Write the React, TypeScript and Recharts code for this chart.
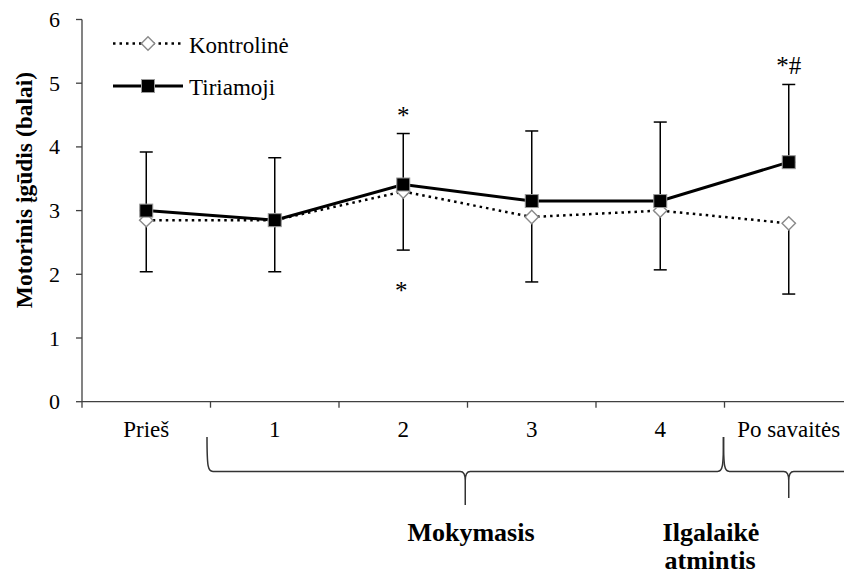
import React from "react";
import {
  LineChart,
  Line,
  XAxis,
  YAxis,
  ErrorBar,
  LabelList,
  Customized,
} from "recharts";

const FONT = "Liberation Serif";

const categories = ["Prieš", "1", "2", "3", "4", "Po savaitės"];
const kontroline = [2.85, 2.85, 3.3, 2.9, 3.0, 2.8];
const kontrolineErrLow = [0.81, 0.81, 0.92, 1.02, 0.93, 1.11];
const tiriamoji = [3.0, 2.85, 3.41, 3.15, 3.15, 3.76];
const tiriamojiErrHigh = [0.92, 0.98, 0.8, 1.1, 1.24, 1.22];
const sigTop = ["", "", "*", "", "", "*#"];
const sigBottom = ["", "", "*", "", "", ""];
const yTicks = [0, 1, 2, 3, 4, 5, 6];

const data = categories.map((c, i) => ({
  x: i + 0.5,
  name: c,
  k: kontroline[i],
  kErr: [kontrolineErrLow[i], 0],
  kLow: kontroline[i] - kontrolineErrLow[i],
  t: tiriamoji[i],
  tErr: [0, tiriamojiErrHigh[i]],
  tTop: tiriamoji[i] + tiriamojiErrHigh[i],
  sigTop: sigTop[i],
  sigBottom: sigBottom[i],
}));

const xTicks = Array.from({ length: categories.length * 2 + 1 }, (_, i) => i / 2);

// layout constants
const CHART_W = 860;
const CHART_H = 576;
const M_TOP = 19.5;
const M_RIGHT = 7;
const Y_W = 82;
const X_H = 30;
const M_BOTTOM = 144.3;
const PLOT_LEFT = Y_W;
const PLOT_RIGHT = CHART_W - M_RIGHT;
const CAT_W = (PLOT_RIGHT - PLOT_LEFT) / categories.length;
const bound = (i: number) => PLOT_LEFT + i * CAT_W;
const center = (i: number) => PLOT_LEFT + (i + 0.5) * CAT_W;

const AXIS_COLOR = "#404040";

const txt = (size: number, bold = false): React.CSSProperties => ({
  fontFamily: FONT,
  fontSize: size,
  fontWeight: bold ? "bold" : "normal",
  fill: "#000",
});

const XTick = (props: any) => {
  const { x, y, payload } = props;
  const v = payload.value;
  if (Number.isInteger(v)) {
    return <line x1={x} y1={y} x2={x} y2={y + 6} stroke={AXIS_COLOR} strokeWidth={1.3} />;
  }
  const label = categories[Math.floor(v)];
  return (
    <text x={x} y={y + 35} textAnchor="middle" style={txt(23)}>
      {label}
    </text>
  );
};

const YTick = (props: any) => {
  const { x, y, payload } = props;
  return (
    <text x={x} y={y + 7.5} textAnchor="end" style={txt(22)}>
      {payload.value}
    </text>
  );
};

const SquareDot = (p: any) => {
  const { cx, cy, index } = p;
  if (cx == null || cy == null) return <g key={`sq-${index}`} />;
  return (
    <rect key={`sq-${index}`} x={cx - 6.5} y={cy - 6.5} width={13} height={13} fill="#000" stroke="#9a9a9a" strokeWidth={1} />
  );
};

const DiamondDot = (p: any) => {
  const { cx, cy, index } = p;
  if (cx == null || cy == null) return <g key={`di-${index}`} />;
  const r = 6.7;
  return (
    <polygon
      key={`di-${index}`}
      points={`${cx},${cy - r} ${cx + r},${cy} ${cx},${cy + r} ${cx - r},${cy}`}
      fill="#fff"
      stroke="#8a8a8a"
      strokeWidth={1.4}
    />
  );
};

const TopSig = (p: any) => {
  const { x, y, value, index } = p;
  if (!value) return null;
  return (
    <text key={`ts-${index}`} x={x} y={y - 10} textAnchor="middle" style={txt(25)}>
      {value}
    </text>
  );
};

const BottomSig = (p: any) => {
  const { x, y, value, index } = p;
  if (!value) return null;
  return (
    <text key={`bs-${index}`} x={x - 2} y={y + 49} textAnchor="middle" style={txt(25)}>
      {value}
    </text>
  );
};

const bracePath = (xa: number, xb: number, xm: number, yTopA: number, yTopB: number, yMid: number, yTip: number) => {
  return (
    `M ${xa} ${yTopA} C ${xa} ${yMid - 4} ${xa + 1} ${yMid} ${xa + 6} ${yMid} ` +
    `L ${xm - 5} ${yMid} C ${xm - 1} ${yMid} ${xm} ${yMid + 3} ${xm} ${yMid + 9} L ${xm} ${yTip} ` +
    `M ${xm} ${yMid + 9} C ${xm} ${yMid + 3} ${xm + 1} ${yMid} ${xm + 5} ${yMid} ` +
    `L ${xb - 6} ${yMid} C ${xb - 1} ${yMid} ${xb} ${yMid - 4} ${xb} ${yTopB}`
  );
};

const Annotations = () => {
  const b1a = bound(1) - 3.5;
  const b1b = bound(5) - 1;
  const b2a = bound(5) - 1;
  const b2b = bound(6);
  const yMid = 471.5;
  return (
    <g>
      {/* legend */}
      <g>
        <line x1={113} y1={43.5} x2={183} y2={43.5} stroke="#000" strokeWidth={2.5} strokeDasharray="2.5 4" />
        <polygon points="148,36.8 154.7,43.5 148,50.2 141.3,43.5" fill="#fff" stroke="#8a8a8a" strokeWidth={1.4} />
        <text x={189} y={53} style={txt(23)}>Kontrolinė</text>
        <line x1={113} y1={86} x2={183} y2={86} stroke="#000" strokeWidth={3} />
        <rect x={141.5} y={79.5} width={13} height={13} fill="#000" stroke="#9a9a9a" strokeWidth={1} />
        <text x={189} y={95} style={txt(23)}>Tiriamoji</text>
      </g>
      {/* y axis label */}
      <text transform="translate(32,190) rotate(-90)" textAnchor="middle" style={txt(23.5, true)}>
        Motorinis įgūdis (balai)
      </text>
      {/* braces */}
      <path d={bracePath(b1a, b1b, (b1a + b1b) / 2, 437, 437, yMid, 505)} fill="none" stroke="#333" strokeWidth={1.5} />
      <path d={bracePath(b2a, b2b, center(5), 437, 437, yMid, 498)} fill="none" stroke="#333" strokeWidth={1.5} />
      {/* group labels */}
      <text x={471} y={541} textAnchor="middle" style={txt(26, true)}>
        Mokymasis
      </text>
      <text x={711} y={541} textAnchor="middle" style={txt(26, true)}>
        Ilgalaikė
      </text>
      <text x={710} y={569} textAnchor="middle" style={txt(26, true)}>
        atmintis
      </text>
    </g>
  );
};

export default function App() {
  return (
    <div style={{ position: "absolute", left: 0, top: 0, width: 844, height: 576, overflow: "hidden", background: "#fff", fontFamily: FONT }}>
      <LineChart
        width={CHART_W}
        height={CHART_H}
        data={data}
        margin={{ top: M_TOP, right: M_RIGHT, bottom: M_BOTTOM, left: 0 }}
        style={{ fontFamily: FONT }}
      >
        <XAxis
          dataKey="x"
          type="number"
          domain={[0, categories.length]}
          ticks={xTicks}
          interval={0}
          height={X_H}
          tickLine={false}
          tickSize={0}
          tickMargin={0}
          tick={<XTick />}
          axisLine={{ stroke: AXIS_COLOR, strokeWidth: 1.3 }}
        />
        <YAxis
          type="number"
          domain={[0, 6]}
          ticks={yTicks}
          interval={0}
          width={Y_W}
          tickSize={6}
          tickMargin={16}
          tick={<YTick />}
          tickLine={{ stroke: AXIS_COLOR, strokeWidth: 1.3 }}
          axisLine={{ stroke: AXIS_COLOR, strokeWidth: 1.3 }}
        />
        <Line
          dataKey="k"
          stroke="#000"
          strokeWidth={2.5}
          strokeDasharray="2.5 4"
          dot={<DiamondDot />}
          activeDot={false}
          isAnimationActive={false}
        >
          <ErrorBar dataKey="kErr" direction="y" width={6.5} stroke="#000" strokeWidth={1.5} isAnimationActive={false} />
        </Line>
        <Line
          dataKey="t"
          stroke="#000"
          strokeWidth={3}
          dot={<SquareDot />}
          activeDot={false}
          isAnimationActive={false}
        >
          <ErrorBar dataKey="tErr" direction="y" width={6.5} stroke="#000" strokeWidth={1.5} isAnimationActive={false} />
        </Line>
        <Line dataKey="tTop" stroke="none" dot={false} activeDot={false} isAnimationActive={false}>
          <LabelList dataKey="sigTop" content={TopSig} />
        </Line>
        <Line dataKey="kLow" stroke="none" dot={false} activeDot={false} isAnimationActive={false}>
          <LabelList dataKey="sigBottom" content={BottomSig} />
        </Line>
        <Customized component={Annotations} />
      </LineChart>
    </div>
  );
}
